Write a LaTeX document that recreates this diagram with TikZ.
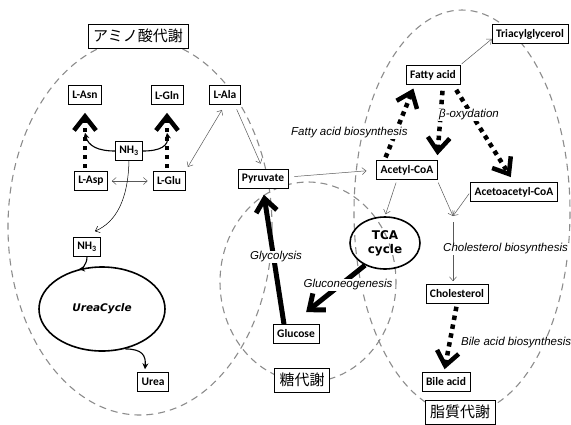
\documentclass[tikz,border=0pt]{standalone}
\usepackage{fontspec}
\setmainfont{Carlito}
\newfontfamily\jpfont{Noto Sans CJK JP}
\newfontfamily\pathfont{Liberation Sans}
\newfontfamily\cyclefont{DejaVu Sans}
\usetikzlibrary{arrows.meta,shapes.geometric}
\pgfdeclarelayer{regionlayer}
\pgfdeclarelayer{arrowlayer}
\pgfsetlayers{regionlayer,arrowlayer,main}

\tikzset{
  metab/.style={draw,line width=.6pt,fill=white,font=\bfseries\fontsize{11.5}{13}\selectfont,
    inner xsep=4pt,inner ysep=2pt,minimum height=19pt},
  area/.style={draw,line width=.6pt,fill=white,font=\jpfont\fontsize{15}{17}\selectfont,
    inner xsep=5pt,inner ysep=2pt,minimum height=24pt},
  region/.style={draw=black!45,line width=1.1pt,dash pattern=on 7pt off 5pt},
  cyc/.style={draw,ellipse,line width=1.6pt,inner sep=0pt,font=\cyclefont\bfseries},
  pathlbl/.style={font=\pathfont\itshape\fontsize{11.5}{13}\selectfont,inner sep=1pt,fill=white},
  thinarr/.style={draw=black!65,line width=.5pt,-{Straight Barb[length=4pt,width=7pt]}},
  thinboth/.style={thinarr,{Straight Barb[length=4pt,width=7pt]}-{Straight Barb[length=4pt,width=7pt]}},
  curvearr/.style={line width=1.1pt,-{Stealth[length=6pt,width=6pt,inset=2pt]}},
  bigdot/.style={line width=4.5pt,dash pattern=on 4.5pt off 4.5pt,
    -{Straight Barb[length=14pt,width=22pt]}},
  bigsolid/.style={line width=5pt,-{Straight Barb[length=13pt,width=21pt]}}
}

\begin{document}
\begin{tikzpicture}[x=1pt,y=-1pt]
\useasboundingbox (0,0) rectangle (571,424);

% amino acids
\node[metab] (asn) at (85,95) {L-Asn};
\node[metab] (gln) at (167,95) {L-Gln};
\node[metab] (ala) at (225,95) {L-Ala};
\node[metab] (nhA) at (129,151) {NH\textsubscript{3}};
\node[metab] (asp) at (91,181) {L-Asp};
\node[metab] (glu) at (169,181) {L-Glu};
\node[metab] (nhB) at (87,247) {NH\textsubscript{3}};
\node[cyc,minimum width=126pt,minimum height=84pt,font=\cyclefont\bfseries\itshape\fontsize{10.5}{12}\selectfont]
  (ureaCyc) at (102,309) {UreaCycle};
\node[metab] (urea) at (153,382) {Urea};

% sugars
\node[metab] (pyr) at (263,179) {Pyruvate};
\node[metab] (glc) at (296,334) {Glucose};
\node[cyc,minimum width=70pt,minimum height=52pt,align=center,font=\cyclefont\bfseries\fontsize{12}{14}\selectfont]
  (tca) at (385,243) {TCA\\cycle};

% lipids
\node[metab] (fa) at (433,75) {Fatty acid};
\node[metab] (tag) at (530,34) {Triacylglycerol};
\node[metab] (acoa) at (407,170) {Acetyl-CoA};
\node[metab] (aacoa) at (514,192) {Acetoacetyl-CoA};
\node[metab] (chol) at (457,294) {Cholesterol};
\node[metab] (bile) at (446,382) {Bile acid};
\coordinate (cholJoin) at (453,216);

% pathway names
\node[pathlbl,anchor=west] (faBio) at (290,133) {Fatty acid biosynthesis};
\node[pathlbl] (betaOx) at (469,115) {β-oxydation};
\node[pathlbl] (glycol) at (276,257) {Glycolysis};
\node[pathlbl] (gluconeo) at (348,285) {Gluconeogenesis};
\node[pathlbl,anchor=west] (cholBio) at (442,249) {Cholesterol biosynthesis};
\node[pathlbl,anchor=west] (bileBio) at (460,343) {Bile acid biosynthesis};

% metabolism areas
\node[area] (aminoLbl) at (138,36) {アミノ酸代謝};
\node[area] (sugarLbl) at (302,380) {糖代謝};
\node[area] (lipidLbl) at (460,412) {脂質代謝};

\begin{pgfonlayer}{regionlayer}
\draw[region] (140,227) ellipse [x radius=132, y radius=188];
\draw[region] (308,282) ellipse [x radius=88, y radius=100];
\draw[region] (462,212) ellipse [x radius=108, y radius=202];
\end{pgfonlayer}

\begin{pgfonlayer}{arrowlayer}
% amino acid arrows
\draw[bigdot,shorten <=3pt,shorten >=8pt] (asp.north -| asn.south) -- (asn.south);
\draw[bigdot,shorten <=3pt,shorten >=8pt] (glu.north -| gln.south) -- (gln.south);
\draw[curvearr] (nhA.west) .. controls (98,151) and (88,146) .. ([yshift=-28pt]asn.south);
\draw[curvearr] (nhA.east) .. controls (160,151) and (169,146) .. ([yshift=-28pt]gln.south);
\draw[thinboth,shorten <=4pt,shorten >=5pt] (asp.east) -- (glu.west);
\draw[thinboth,shorten <=5pt,shorten >=6pt] (glu.north east) -- (ala.south);
\draw[thinarr,shorten <=5pt,shorten >=6pt] ([xshift=-6pt]ala.south east) -- (pyr.north);
\draw[thinarr,draw=black] (nhA.south) .. controls (128,200) and (116,222) .. ([xshift=8pt,yshift=6pt]nhB.north);
\draw[curvearr] (nhB.south) .. controls (87,266) and (80,269) .. (ureaCyc.120);
\draw[curvearr] (ureaCyc.-60) .. controls (142,349) and (146,355) .. ([xshift=-8pt,yshift=3pt]urea.north);

% sugar arrows
\draw[bigsolid,shorten >=6pt] ([xshift=-12pt]glc.north) -- (pyr.south);
\draw[bigsolid] (tca.228) -- ([xshift=-13pt,yshift=12pt]glc.north east);
\draw[thinarr,shorten <=6pt,shorten >=10pt] ([yshift=2pt]pyr.east) -- (acoa.west);

% lipid arrows
\draw[bigdot,shorten <=3pt,shorten >=4pt] ([xshift=8pt]acoa.north west) -- ([xshift=9pt]fa.south west);
\draw[bigdot,shorten <=6pt,shorten >=5pt] ([xshift=10pt]fa.south) -- ([xshift=30pt]acoa.north);
\draw[bigdot,shorten <=6pt,shorten >=6pt] ([xshift=20pt]fa.south) -- (aacoa.north);
\draw[thinarr,shorten <=2pt] (fa.north east) -- ([yshift=-5pt]tag.west);
\draw[thinarr,shorten <=3pt,shorten >=2pt] ([xshift=-10pt]acoa.south) -- (tca.north);
\draw[thinarr,shorten <=3pt] ([xshift=30pt]acoa.south) -- (cholJoin);
\draw[thinarr,shorten <=2pt] (aacoa.west) -- (cholJoin);
\draw[thinarr,shorten >=3pt] ([yshift=-6pt]cholJoin) -- (cholJoin |- chol.north);
\draw[bigdot,shorten <=3pt,shorten >=3pt] (chol.south) -- ([xshift=-2pt]bile.north);
\end{pgfonlayer}
\end{tikzpicture}
\end{document}
